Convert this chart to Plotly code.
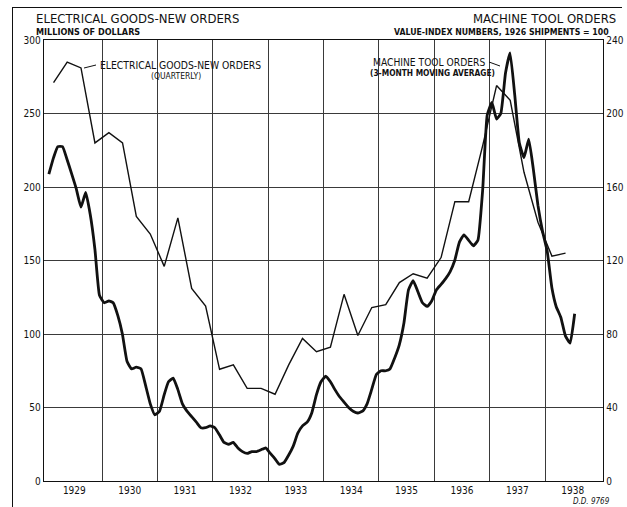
import plotly.graph_objects as go
import pandas as pd

# ---------------- data ----------------
years = list(range(1929, 1939))
year_labels = [str(y) for y in years]

left_ticks = [0, 50, 100, 150, 200, 250, 300]
right_ticks = [0, 40, 80, 120, 160, 200, 240]

# Electrical goods - new orders, millions of dollars (quarterly, 1929 Q1 .. 1938 Q2)
electrical_start = "1929-01-01"
electrical_goods = [271, 285, 281, 230,
                    237, 230, 180, 168,
                    146, 179, 131, 119,
                    76, 79, 63, 63,
                    59, 79, 97, 88,
                    91, 127, 99, 118,
                    120, 135, 141, 138,
                    152, 190, 190, 228,
                    269, 259, 210, 176,
                    153, 155]

# Machine tool orders, index 1926 shipments = 100 (3-month moving average, monthly, Jan 1929 .. Jul 1938)
machine_start = "1929-01-01"
machine_tool = [167, 176, 182, 182, 175, 167, 159, 149, 157, 145, 126, 101,
                97, 98, 97, 90, 80, 65, 61, 62, 61, 52, 42, 36,
                38, 47, 54, 56, 50, 42, 38, 35, 32, 29, 29, 30,
                29, 25, 21, 20, 21, 18, 16, 15, 16, 16, 17, 18,
                15, 12, 9, 10, 14, 19, 26, 30, 32, 37, 47, 54,
                57, 54, 50, 46, 43, 40, 38, 37, 38, 42, 50, 58,
                60, 60, 61, 67, 74, 86, 104, 109, 103, 97, 95, 98,
                104, 107, 110, 114, 120, 130, 134, 131, 128, 131, 158, 199,
                206, 197, 200, 222, 233, 210, 184, 176, 186, 170, 150, 136,
                125, 105, 95, 89, 79, 75, 91]

# ---------------- dates ----------------
q_dates = pd.date_range(electrical_start, periods=len(electrical_goods), freq="QS") + pd.Timedelta(days=45)
m_dates = pd.date_range(machine_start, periods=len(machine_tool), freq="MS") + pd.Timedelta(days=14)
label_dates = [f"{y}-07-02" for y in years]
boundary_dates = [f"{y}-01-01" for y in years[1:]]

INK = "#111111"
GRID = "#3a3a3a"
FONT = "DejaVu Sans Condensed, Liberation Sans Narrow, Liberation Sans, sans-serif"

# page layout: paper spans x 13..622, y 8..507 ; plot area spans x 44..603, y 40..481
PX0, PX1, PY0, PY1 = 13, 622, 8, 507
def px2paper(px, py):
    return (px - PX0) / (PX1 - PX0), (PY1 - py) / (PY1 - PY0)

xd0, yd1 = px2paper(44, 40)
xd1, yd0 = px2paper(603, 481)

fig = go.Figure()
fig.add_trace(go.Scatter(x=q_dates, y=electrical_goods, mode="lines",
                         line=dict(color=INK, width=1.4), xaxis="x", yaxis="y",
                         showlegend=False, hoverinfo="skip"))
fig.add_trace(go.Scatter(x=m_dates, y=machine_tool, mode="lines",
                         line=dict(color=INK, width=2.8, shape="spline", smoothing=0.4),
                         xaxis="x", yaxis="y2", showlegend=False, hoverinfo="skip"))
# invisible point that makes the full-sheet frame subplot exist
fig.add_trace(go.Scatter(x=[0.5], y=[0.5], mode="markers", marker=dict(opacity=0, size=1),
                         xaxis="x3", yaxis="y3", showlegend=False, hoverinfo="skip"))

frame_axis = dict(domain=[0, 1], range=[0, 1], showline=True, linecolor=INK, linewidth=1.4,
                  showticklabels=False, ticks="", showgrid=False, zeroline=False,
                  automargin=False, fixedrange=True, visible=True)

fig.update_layout(
    template="none",
    width=627, height=507,
    margin=dict(l=PX0, r=627 - PX1, t=PY0, b=507 - PY1, pad=0, autoexpand=False),
    paper_bgcolor="white", plot_bgcolor="rgba(0,0,0,0)",
    font=dict(family=FONT, color=INK, size=10),
    showlegend=False,
    xaxis=dict(type="date", domain=[xd0, xd1], range=["1928-12-14", "1939-01-18"],
               automargin=False, anchor="y",
               tickmode="array", tickvals=label_dates, ticktext=year_labels,
               ticks="", showgrid=False, zeroline=False,
               showline=True, linecolor=INK, linewidth=1.3, mirror=True,
               tickfont=dict(size=10, family=FONT),
               minor=dict(tickmode="array", tickvals=boundary_dates, showgrid=True,
                          gridcolor=GRID, gridwidth=1, ticks="")),
    yaxis=dict(domain=[yd0, yd1], range=[0, 300], tickmode="array", tickvals=left_ticks,
               automargin=False, anchor="x",
               ticks="", showgrid=True, gridcolor=GRID, gridwidth=1, zeroline=False,
               showline=True, linecolor=INK, linewidth=1.3,
               tickfont=dict(size=10, family=FONT)),
    yaxis2=dict(range=[0, 240], tickmode="array", tickvals=right_ticks, automargin=False,
                overlaying="y", side="right", anchor="x", ticks="", showgrid=False, zeroline=False,
                showline=True, linecolor=INK, linewidth=1.3,
                tickfont=dict(size=10, family=FONT)),
    # outer frame of the sheet (left and top edges)
    xaxis3=dict(anchor="y3", side="top", **frame_axis),
    yaxis3=dict(anchor="x3", side="left", **frame_axis),
)

annots = []
def add_text(text, px, py, anchor, size, **kw):
    x, y = px2paper(px, py)
    annots.append(dict(text=text, x=x, y=y, xref="paper", yref="paper",
                       xanchor=anchor, yanchor="middle", showarrow=False,
                       font=dict(size=size, family=FONT, color=INK), **kw))

add_text("ELECTRICAL GOODS-NEW ORDERS", 34, 18, "left", 13)
add_text("<b>MILLIONS OF DOLLARS</b>", 34, 32, "left", 9)
add_text("MACHINE TOOL ORDERS", 618, 18, "right", 13)
add_text("<b>VALUE-INDEX NUMBERS, 1926 SHIPMENTS = 100</b>", 611, 32, "right", 8.7)
add_text("ELECTRICAL GOODS-NEW ORDERS", 98, 65, "left", 10.3)
add_text("(QUARTERLY)", 176, 76, "center", 8.5)
add_text("MACHINE TOOL ORDERS", 487, 62, "right", 10.2)
add_text("<b>(3-MONTH MOVING AVERAGE)</b>", 432, 73, "center", 8.3)
add_text("<i>D.D. 9769</i>", 612, 501, "right", 8)
fig.update_layout(annotations=annots)

shapes = []
def add_line(p1, p2, w=1):
    x0, y0 = px2paper(*p1)
    x1, y1 = px2paper(*p2)
    shapes.append(dict(type="line", xref="paper", yref="paper", x0=x0, y0=y0, x1=x1, y1=y1,
                       layer="above", line=dict(color=INK, width=w)))

add_line((96, 65), (84, 68))
add_line((489, 62), (500, 66))
fig.update_layout(shapes=shapes)

fig.write_html("out.html", config={"displayModeBar": False, "staticPlot": True},
               post_script="document.body.style.margin='0';document.body.style.overflow='hidden';")
